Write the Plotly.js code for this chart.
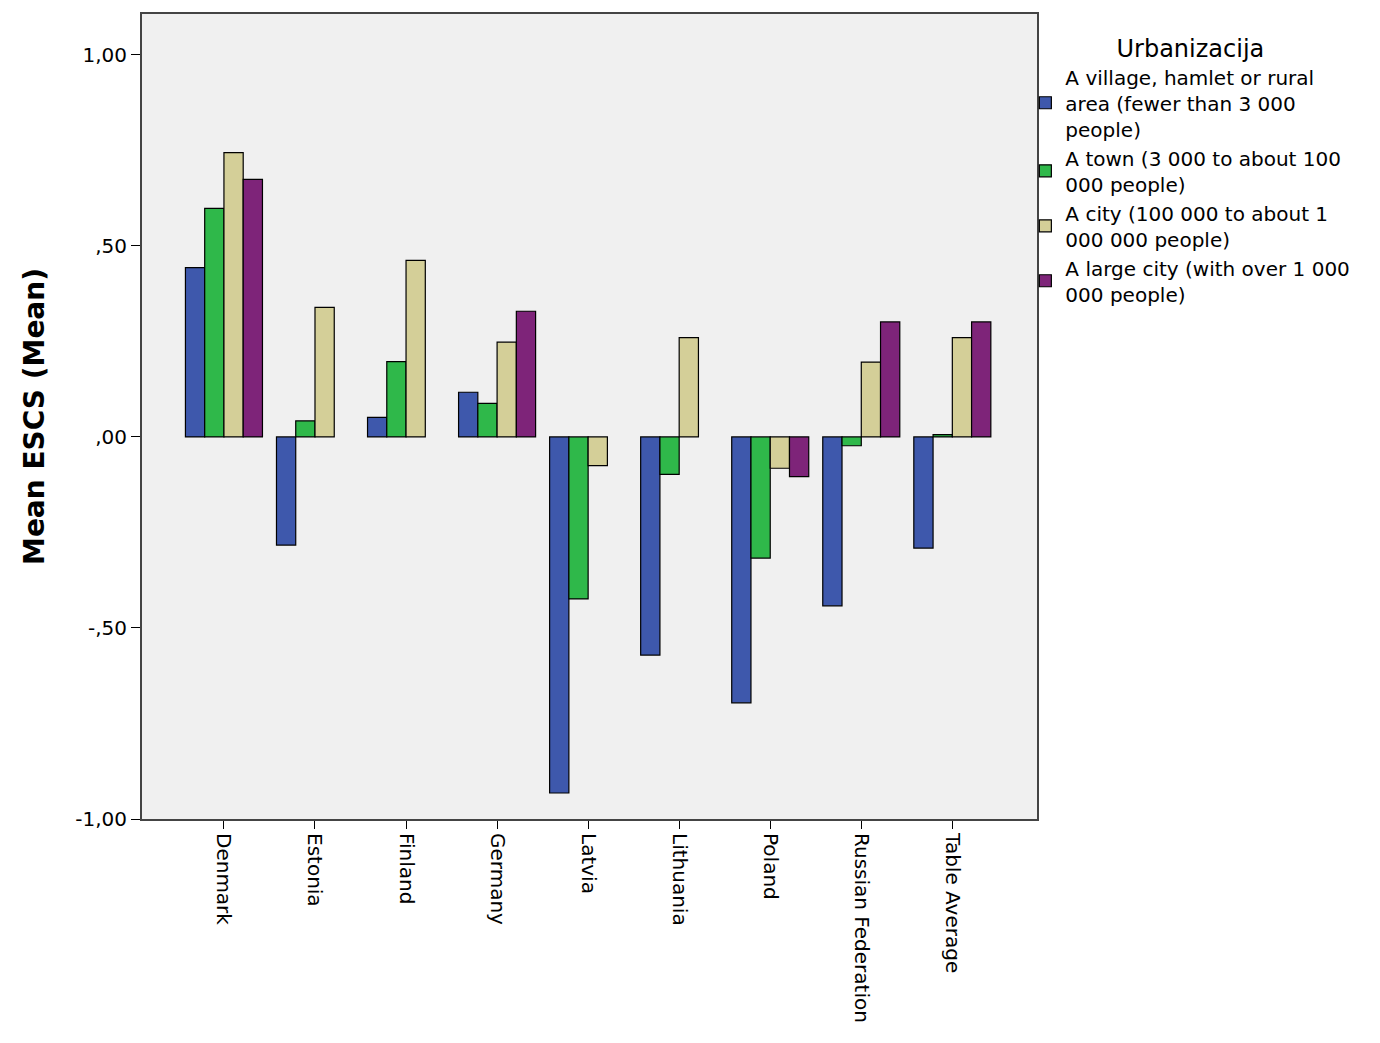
<!DOCTYPE html>
<html>
<head>
<meta charset="utf-8">
<script src="https://cdn.plot.ly/plotly-3.0.1.min.js"></script>
<style>html,body{margin:0;padding:0;background:#fff;}#chart{width:1380px;height:1043px;}</style>
</head>
<body>
<div id="chart"></div>
<script>
const categories = ["Denmark", "Estonia", "Finland", "Germany", "Latvia", "Lithuania", "Poland", "Russian Federation", "Table Average"];
const seriesNames = [
  "A village, hamlet or rural<br>area (fewer than 3 000<br>people)",
  "A town (3 000 to about 100<br>000 people)",
  "A city (100 000 to about 1<br>000 000 people)",
  "A large city (with over 1 000<br>000 people)"
];
const village = [0.443, -0.283, 0.051, 0.117, -0.932, -0.571, -0.696, -0.442, -0.291];
const town = [0.598, 0.042, 0.197, 0.088, -0.424, -0.098, -0.317, -0.023, 0.006];
const city = [0.744, 0.339, 0.462, 0.248, -0.075, 0.260, -0.082, 0.196, 0.260];
const largeCity = [0.674, null, null, 0.329, null, null, -0.104, 0.301, 0.301];
const tickValues = [1, 0.5, 0, -0.5, -1];
const tickLabels = ["1,00", ",50", ",00", "-,50", "-1,00"];
const colors = ["#3e58ac", "#2fb84a", "#d4cf98", "#7e2479"];

const FONT = "DejaVu Sans, Verdana, sans-serif";
const seriesData = [village, town, city, largeCity];
const traces = seriesData.map((vals, i) => ({
  type: "bar",
  name: seriesNames[i],
  x: categories,
  y: vals,
  marker: {color: colors[i], line: {color: "#000", width: 1.2}},
  hoverinfo: "x+y"
}));

const layout = {
  width: 1380, height: 1043,
  margin: {l: 142, r: 343, t: 14, b: 224},
  paper_bgcolor: "#ffffff",
  plot_bgcolor: "#f0f0f0",
  font: {family: FONT, color: "#000"},
  barmode: "group",
  bargap: 0.154,
  bargroupgap: 0,
  xaxis: {
    type: "category",
    range: [-0.9, 8.93],
    tickangle: 90,
    ticks: "outside", ticklen: 8, tickcolor: "#000",
    tickfont: {size: 20, family: FONT},
    showline: true, linecolor: "#444", linewidth: 2, mirror: true,
    showgrid: false
  },
  yaxis: {
    range: [-1, 1.107],
    tickvals: tickValues, ticktext: tickLabels,
    ticks: "outside", ticklen: 9, tickcolor: "#000",
    tickfont: {size: 20, family: FONT},
    showline: true, linecolor: "#444", linewidth: 2, mirror: true,
    showgrid: false, zeroline: false,
    title: {text: "Mean ESCS (Mean)", font: {size: 28, family: FONT, weight: "bold"}, standoff: 22}
  },
  legend: {
    x: 0.987, xanchor: "left", y: 0.985, yanchor: "top",
    font: {size: 20, family: FONT},
    title: {text: "Urbanizacija", side: "top center", font: {size: 24, family: FONT}},
    tracegroupgap: 0,
    itemwidth: 30,
    bgcolor: "rgba(0,0,0,0)"
  },
  showlegend: true
};

Plotly.newPlot("chart", traces, layout, {displayModeBar: false, staticPlot: true});
</script>
</body>
</html>
